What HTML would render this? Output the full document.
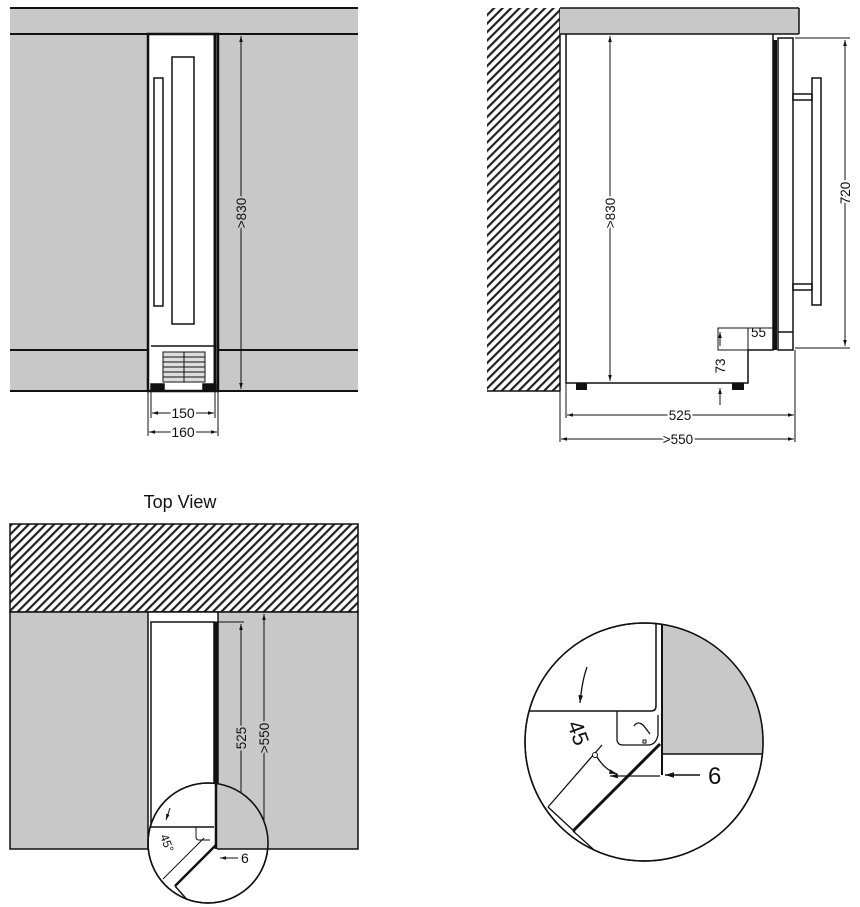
<!DOCTYPE html>
<html><head><style>body{margin:0;background:#fff}svg{display:block}text{font-family:"Liberation Sans",sans-serif;fill:#111}</style></head><body>
<svg width="860" height="907" viewBox="0 0 860 907" xmlns="http://www.w3.org/2000/svg">
<defs>
<pattern id="h" width="6" height="6" patternUnits="userSpaceOnUse" patternTransform="rotate(45)"><rect width="6" height="6" fill="#fff"/><rect width="2.2" height="6" fill="#222"/></pattern>
<clipPath id="c1"><circle cx="208" cy="843" r="60"/></clipPath>
<clipPath id="c2"><circle cx="644" cy="742" r="119"/></clipPath>
<marker id="a" viewBox="0 0 10 10" refX="10" refY="5" markerWidth="6" markerHeight="6" orient="auto-start-reverse"><path d="M0,2L10,5L0,8z" fill="#111"/></marker>
</defs>
<g stroke="#111" stroke-width="1.5" fill="none">
<!-- Panel 1 -->
<rect x="10" y="8" width="348" height="383" fill="#c8c8c8" stroke="none"/>
<line x1="10" y1="8" x2="358" y2="8" stroke-width="2"/>
<line x1="10" y1="34" x2="358" y2="34" stroke-width="2"/>
<line x1="10" y1="350" x2="358" y2="350" stroke-width="2"/>
<line x1="10" y1="391" x2="358" y2="391" stroke-width="2"/>
<rect x="148" y="34" width="70" height="357" fill="#fff" stroke-width="2.5"/>
<line x1="215" y1="34" x2="215" y2="391" stroke-width="3"/>
<rect x="172" y="57" width="22" height="267"/>
<rect x="154" y="78" width="9" height="228"/>
<line x1="151" y1="346" x2="215" y2="346"/>
<rect x="163" y="352" width="42" height="30" fill="#ddd" stroke-width="1"/>
<g stroke-width="1"><line x1="163" y1="357" x2="205" y2="357"/><line x1="163" y1="362" x2="205" y2="362"/><line x1="163" y1="367" x2="205" y2="367"/><line x1="163" y1="372" x2="205" y2="372"/><line x1="163" y1="377" x2="205" y2="377"/><line x1="184" y1="352" x2="184" y2="382"/></g>
<rect x="151" y="384" width="13" height="7" fill="#111"/><rect x="203" y="384" width="13" height="7" fill="#111"/>
<line x1="241" y1="36" x2="241" y2="389" stroke-width="1" marker-start="url(#a)" marker-end="url(#a)"/>
<line x1="148" y1="391" x2="148" y2="436" stroke-width="1"/><line x1="218" y1="391" x2="218" y2="436" stroke-width="1"/>
<line x1="151" y1="391" x2="151" y2="418" stroke-width="1"/><line x1="215" y1="391" x2="215" y2="418" stroke-width="1"/>
<line x1="152" y1="413" x2="214" y2="413" stroke-width="1" marker-start="url(#a)" marker-end="url(#a)"/>
<line x1="149" y1="432" x2="217" y2="432" stroke-width="1" marker-start="url(#a)" marker-end="url(#a)"/>
<!-- Panel 2 -->
<rect x="487" y="8" width="73" height="383" fill="url(#h)" stroke="none"/>
<line x1="560" y1="8" x2="560" y2="391"/>
<line x1="487" y1="391" x2="560" y2="391"/>
<rect x="560" y="8" width="239" height="26" fill="#c8c8c8" stroke="none"/>
<line x1="560" y1="8" x2="799" y2="8"/><line x1="560" y1="34" x2="799" y2="34"/><line x1="799" y1="8" x2="799" y2="34"/>
<polyline points="566,34 566,383 748,383 748,350 773,350 773,34"/>
<rect x="773" y="40" width="4" height="310" fill="#111" stroke="none"/>
<rect x="778" y="38" width="15" height="312"/>
<line x1="778" y1="332" x2="793" y2="332"/>
<rect x="812" y="78" width="9" height="227"/>
<rect x="793" y="94" width="19" height="6"/><rect x="793" y="284" width="19" height="6"/>
<line x1="795" y1="38" x2="850" y2="38" stroke-width="1"/><line x1="795" y1="348" x2="850" y2="348" stroke-width="1"/>
<line x1="845" y1="40" x2="845" y2="346" stroke-width="1" marker-start="url(#a)" marker-end="url(#a)"/>
<line x1="610" y1="36" x2="610" y2="381" stroke-width="1" marker-start="url(#a)" marker-end="url(#a)"/>
<rect x="718" y="328" width="30" height="22" stroke-width="1"/>
<line x1="738" y1="328" x2="773" y2="328" stroke-width="1"/>
<line x1="720" y1="332" x2="720" y2="346" stroke-width="1" marker-start="url(#a)"/>
<line x1="720" y1="388" x2="720" y2="405" stroke-width="1" marker-start="url(#a)"/>
<rect x="576" y="383" width="11" height="7" fill="#111" stroke="none"/><rect x="732" y="383" width="12" height="7" fill="#111" stroke="none"/>
<line x1="566" y1="383" x2="566" y2="418" stroke-width="1"/><line x1="560" y1="391" x2="560" y2="442" stroke-width="1"/>
<line x1="795" y1="350" x2="795" y2="442" stroke-width="1"/>
<line x1="567" y1="415" x2="794" y2="415" stroke-width="1" marker-start="url(#a)" marker-end="url(#a)"/>
<line x1="561" y1="439" x2="794" y2="439" stroke-width="1" marker-start="url(#a)" marker-end="url(#a)"/>
<!-- Panel 3 -->
<rect x="10" y="524" width="348" height="88" fill="url(#h)"/>
<rect x="10" y="612" width="348" height="237" fill="#c8c8c8"/>
<rect x="148" y="612" width="70" height="237" fill="#fff" stroke-width="1.5"/>
<rect x="151" y="622" width="63" height="205" fill="#fff"/>
<line x1="216" y1="622" x2="216" y2="830" stroke-width="3"/>
<line x1="214" y1="622" x2="244" y2="622" stroke-width="1"/>
<line x1="241" y1="624" x2="241" y2="847" stroke-width="1" marker-start="url(#a)" marker-end="url(#a)"/>
<line x1="264" y1="614" x2="264" y2="847" stroke-width="1" marker-start="url(#a)" marker-end="url(#a)"/>
<circle cx="208" cy="843" r="60" fill="#fff"/>
<g clip-path="url(#c1)">
<rect x="217" y="783" width="60" height="66" fill="#c8c8c8" stroke="none"/>
<line x1="217" y1="849" x2="270" y2="849"/>
<line x1="148" y1="827" x2="214" y2="827"/>
<line x1="216" y1="783" x2="216" y2="849" stroke-width="2.5"/>
<line x1="148" y1="783" x2="148" y2="849"/>
<path d="M196,827 v10 q0,3 3,3 h11" stroke-width="1"/>
<line x1="216" y1="845" x2="175" y2="886" stroke-width="2.5"/>
<line x1="204" y1="838" x2="163" y2="879" stroke-width="1"/>
<line x1="175" y1="886" x2="190" y2="903"/>
<path d="M170,808 l-4,12" stroke-width="1" marker-end="url(#a)"/>
</g>
<circle cx="208" cy="843" r="60"/>
<line x1="238" y1="858" x2="220" y2="858" stroke-width="1" marker-end="url(#a)"/>
<!-- Panel 4 -->
<circle cx="644" cy="742" r="119" fill="#fff"/>
<g clip-path="url(#c2)">
<rect x="662" y="620" width="110" height="134" fill="#c8c8c8" stroke="none"/>
<line x1="662" y1="754" x2="770" y2="754"/>
<line x1="662" y1="620" x2="662" y2="775" stroke-width="2"/>
<line x1="656" y1="620" x2="656" y2="706" stroke-width="1.5"/>
<path d="M520,711 H651 q5,0 5,-5"/>
<path d="M617,711 v28 q0,6 6,6 h25 q8,0 10,-10 l0,-20" stroke-width="1.3"/>
<path d="M634,726 q4,-6 10,0 l6,8" stroke-width="1.3"/>
<rect x="643" y="740" width="3" height="3" stroke-width="1"/>
<line x1="660" y1="744" x2="573" y2="831" stroke-width="3"/>
<line x1="602" y1="745" x2="548" y2="807" stroke-width="1.3"/>
<line x1="548" y1="807" x2="575" y2="832" stroke-width="1.3"/>
<path d="M573,831 l20,18 q6,6 0,10 q-5,4 -10,-1 l-20,-18" stroke-width="1.3"/>
<path d="M587,667 q-5,14 -7,36" stroke-width="1.3" marker-end="url(#a)"/>
<path d="M597,757 q8,13 20,17" stroke-width="1.3" marker-end="url(#a)"/>
<line x1="610" y1="776" x2="660" y2="776" stroke-width="1.3" marker-start="url(#a)"/>
</g>
<circle cx="644" cy="742" r="119"/>
<line x1="700" y1="775" x2="665" y2="775" stroke-width="1.5" marker-end="url(#a)"/>
<circle cx="595" cy="755" r="2.5" stroke-width="1" fill="#fff"/>
</g>
<g font-size="13.5">
<text transform="translate(246,213) rotate(-90)" text-anchor="middle" style="paint-order:stroke" stroke="#c8c8c8" stroke-width="4">&gt;830</text>
<text x="183" y="418" text-anchor="middle" font-size="14" style="paint-order:stroke" stroke="#fff" stroke-width="4">150</text>
<text x="183" y="437" text-anchor="middle" font-size="14" style="paint-order:stroke" stroke="#fff" stroke-width="4">160</text>
<text transform="translate(615,213) rotate(-90)" text-anchor="middle" style="paint-order:stroke" stroke="#fff" stroke-width="4">&gt;830</text>
<text transform="translate(850,193) rotate(-90)" text-anchor="middle" style="paint-order:stroke" stroke="#fff" stroke-width="4">720</text>
<text x="751" y="337">55</text>
<text transform="translate(725,366) rotate(-90)" text-anchor="middle">73</text>
<text x="680" y="420" text-anchor="middle" style="paint-order:stroke" stroke="#fff" stroke-width="4">525</text>
<text x="678" y="444" text-anchor="middle" style="paint-order:stroke" stroke="#fff" stroke-width="4">&gt;550</text>
<text x="180" y="508" text-anchor="middle" font-size="18">Top View</text>
<text transform="translate(246,738) rotate(-90)" text-anchor="middle" style="paint-order:stroke" stroke="#c8c8c8" stroke-width="4">525</text>
<text transform="translate(269,738) rotate(-90)" text-anchor="middle" style="paint-order:stroke" stroke="#c8c8c8" stroke-width="4">&gt;550</text>
<text transform="translate(160,836) rotate(70)" font-size="12">45°</text>
<text x="241" y="863" font-size="14">6</text>
<text transform="translate(567,724) rotate(70)" font-size="22">45</text>
<text x="708" y="784" font-size="24">6</text>
</g>
</svg>
</body></html>
